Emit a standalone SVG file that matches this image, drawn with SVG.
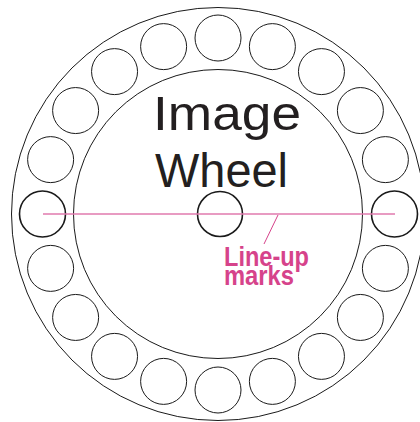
<svg xmlns="http://www.w3.org/2000/svg" width="420" height="422" viewBox="0 0 420 422">
<style>
.c{fill:none;stroke:#1a1a1a;stroke-width:1}
.m{fill:none;stroke:#1a1a1a;stroke-width:1.6}
.t{font-family:"Liberation Sans",Arial,sans-serif;font-size:49px;fill:#231f20}
.p{font-family:"Liberation Sans",Arial,sans-serif;font-size:27px;font-weight:bold;fill:#d6438b}
.l{stroke:#e07aae;stroke-width:1.5;fill:none}
</style>
<rect width="420" height="422" fill="#fff"/>
<g id="wheel">
<circle class="c" cx="218" cy="214" r="206.5"/>
<circle class="c" cx="218" cy="214" r="144.5"/>
</g>
<g id="holes">
<circle class="c" cx="218" cy="38" r="23"/>
<circle class="c" cx="272.38" cy="46.61" r="23"/>
<circle class="c" cx="321.45" cy="71.62" r="23"/>
<circle class="c" cx="360.38" cy="110.55" r="23"/>
<circle class="c" cx="385.39" cy="159.62" r="23"/>
<circle class="m" cx="394.5" cy="214" r="23"/>
<circle class="c" cx="385.39" cy="268.38" r="23"/>
<circle class="c" cx="360.38" cy="317.45" r="23"/>
<circle class="c" cx="321.45" cy="356.38" r="23"/>
<circle class="c" cx="272.38" cy="381.39" r="23"/>
<circle class="c" cx="218" cy="390" r="23"/>
<circle class="c" cx="163.62" cy="381.39" r="23"/>
<circle class="c" cx="114.55" cy="356.38" r="23"/>
<circle class="c" cx="75.62" cy="317.45" r="23"/>
<circle class="c" cx="50.61" cy="268.38" r="23"/>
<circle class="m" cx="42.5" cy="214" r="23"/>
<circle class="c" cx="50.61" cy="159.62" r="23"/>
<circle class="c" cx="75.62" cy="110.55" r="23"/>
<circle class="c" cx="114.55" cy="71.62" r="23"/>
<circle class="c" cx="163.62" cy="46.61" r="23"/>
</g>
<g id="hub">
<circle class="m" cx="220" cy="214" r="22.5"/>
</g>
<g id="title">
<text class="t" x="153" y="130" textLength="148" lengthAdjust="spacingAndGlyphs">Image</text>
<text class="t" x="155" y="187" textLength="133" lengthAdjust="spacingAndGlyphs">Wheel</text>
</g>
<g id="connectors">
<line class="l" x1="43" y1="214" x2="395" y2="214"/>
<line class="l" x1="278" y1="215" x2="264" y2="244" style="stroke:#d6438b;stroke-width:1"/>
</g>
<g id="label">
<text class="p" x="224" y="266" textLength="85" lengthAdjust="spacingAndGlyphs">Line-up</text>
<text class="p" x="224" y="285" textLength="70" lengthAdjust="spacingAndGlyphs">marks</text>
</g>
</svg>
